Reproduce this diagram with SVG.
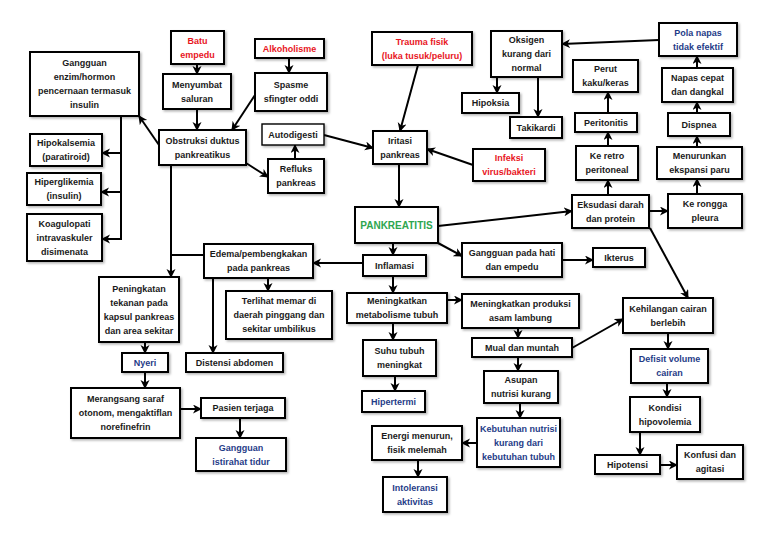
<svg xmlns="http://www.w3.org/2000/svg" width="768" height="543" viewBox="0 0 768 543">
<style>
.b{fill:#fff;stroke:#000;stroke-width:2;filter:url(#sh)}
.t{stroke-width:1.4}
text{font-family:"Liberation Sans",Arial,sans-serif;font-size:9px;font-weight:bold;text-anchor:middle;fill:#1a1a1a}
.r{fill:#e8161e}
.g{fill:#2ea64f;font-size:10px}
.n{fill:#1f3c88}
.c path{fill:none;stroke:#000;stroke-width:2}
.c .a{marker-end:url(#ar)}
</style>
<defs>
<filter id="sh" x="-10%" y="-10%" width="130%" height="140%"><feDropShadow dx="1.5" dy="1.5" stdDeviation="0.8" flood-color="#000" flood-opacity="0.3"/></filter>
<marker id="ar" markerUnits="userSpaceOnUse" markerWidth="10" markerHeight="10" refX="8" refY="4.5" orient="auto"><path d="M0,0 L9,4.5 L0,9 L2.5,4.5 z" fill="#000"/></marker>
</defs>
<rect width="768" height="543" fill="#fff"/>
<g class="c">
<path class="a" d="M197,64 V74"/>
<path class="a" d="M197,109 V130"/>
<path class="a" d="M289,58 V73"/>
<path class="a" d="M255,95 L232,130"/>
<path class="a" d="M159,145 L139,116"/>
<path d="M121,116 V240"/>
<path class="a" d="M121,153 H102"/>
<path class="a" d="M121,192 H101"/>
<path class="a" d="M121,239 H102"/>
<path class="a" d="M246,163 L268,177"/>
<path class="a" d="M295,159 V145"/>
<path class="a" d="M324,135 L373,148"/>
<path class="a" d="M418,65 L400,131"/>
<path class="a" d="M473,165 L427,149"/>
<path class="a" d="M399,164 V207"/>
<path class="a" d="M438,226 L572,211"/>
<path class="a" d="M659,40 L562,44"/>
<path class="a" d="M497,77 V93"/>
<path class="a" d="M538,77 V117"/>
<path class="a" d="M608,195 V180"/>
<path class="a" d="M608,146 V132"/>
<path class="a" d="M608,113 V92"/>
<path class="a" d="M649,211 H668"/>
<path class="a" d="M697,194 V179"/>
<path class="a" d="M697,147 V136"/>
<path class="a" d="M697,113 V102"/>
<path class="a" d="M697,68 V56"/>
<path class="a" d="M650,228 L688,298"/>
<path class="a" d="M393,243 V255"/>
<path class="a" d="M438,243 L462,256"/>
<path class="a" d="M363,263 H313"/>
<path class="a" d="M171,165 V277"/>
<path d="M204,255 H171"/>
<path class="a" d="M213,278 V353"/>
<path class="a" d="M268,278 V291"/>
<path class="a" d="M393,276 V293"/>
<path class="a" d="M447,300 H462"/>
<path class="a" d="M393,323 V340"/>
<path class="a" d="M395,376 V391"/>
<path class="a" d="M562,260 H593"/>
<path class="a" d="M518,328 V338"/>
<path class="a" d="M518,357 V371"/>
<path class="a" d="M520,403 V418"/>
<path class="a" d="M477,443 H462"/>
<path class="a" d="M418,460 V477"/>
<path class="a" d="M572,348 L623,319"/>
<path class="a" d="M668,333 V349"/>
<path class="a" d="M667,383 V397"/>
<path class="a" d="M640,432 V455"/>
<path class="a" d="M660,465 H677"/>
<path class="a" d="M145,342 V353"/>
<path class="a" d="M145,372 V388"/>
<path class="a" d="M180,409 H201"/>
<path class="a" d="M240,418 V438"/>
</g>
<g id="batu"><rect class="b" x="171" y="31" width="53" height="33"/><text class="r"><tspan x="197.5" y="43.7">Batu</tspan><tspan x="197.5" y="57.7">empedu</tspan></text></g>
<g id="menyumbat"><rect class="b" x="163" y="74" width="68" height="35"/><text><tspan x="197" y="87.7">Menyumbat</tspan><tspan x="197" y="101.7">saluran</tspan></text></g>
<g id="alkoholisme"><rect class="b" x="255" y="39" width="69" height="19"/><text class="r" x="289.5" y="51.7">Alkoholisme</text></g>
<g id="spasme"><rect class="b" x="255" y="73" width="72" height="38"/><text><tspan x="291" y="88.2">Spasme</tspan><tspan x="291" y="102.2">sfingter oddi</tspan></text></g>
<g id="gangguan-enzim"><rect class="b" x="30" y="52" width="109" height="64"/><text><tspan x="84.5" y="66.2">Gangguan</tspan><tspan x="84.5" y="80.2">enzim/hormon</tspan><tspan x="84.5" y="94.2">pencernaan termasuk</tspan><tspan x="84.5" y="108.2">insulin</tspan></text></g>
<g id="obstruksi"><rect class="b" x="159" y="130" width="87" height="35"/><text><tspan x="202.5" y="143.7">Obstruksi duktus</tspan><tspan x="202.5" y="157.7">pankreatikus</tspan></text></g>
<g id="hipokalsemia"><rect class="b" x="30" y="134" width="72" height="32"/><text><tspan x="66" y="146.2">Hipokalsemia</tspan><tspan x="66" y="160.2">(paratiroid)</tspan></text></g>
<g id="hiperglikemia"><rect class="b" x="27" y="173" width="74" height="32"/><text><tspan x="64" y="185.2">Hiperglikemia</tspan><tspan x="64" y="199.2">(insulin)</tspan></text></g>
<g id="koagulopati"><rect class="b" x="27" y="214" width="75" height="47"/><text><tspan x="64.5" y="226.7">Koagulopati</tspan><tspan x="64.5" y="240.7">intravaskuler</tspan><tspan x="64.5" y="254.7">disimenata</tspan></text></g>
<g id="autodigesti"><rect class="b t" x="262" y="124" width="62" height="21"/><text x="293" y="137.7">Autodigesti</text></g>
<g id="refluks"><rect class="b" x="268" y="159" width="56" height="34"/><text><tspan x="296" y="172.2">Refluks</tspan><tspan x="296" y="186.2">pankreas</tspan></text></g>
<g id="trauma"><rect class="b" x="372" y="32" width="100" height="33"/><text class="r"><tspan x="422" y="44.7">Trauma fisik</tspan><tspan x="422" y="58.7">(luka tusuk/peluru)</tspan></text></g>
<g id="iritasi"><rect class="b" x="373" y="131" width="54" height="33"/><text><tspan x="400" y="143.7">Iritasi</tspan><tspan x="400" y="157.7">pankreas</tspan></text></g>
<g id="infeksi"><rect class="b" x="473" y="149" width="72" height="32"/><text class="r"><tspan x="509" y="161.2">Infeksi</tspan><tspan x="509" y="175.2">virus/bakteri</tspan></text></g>
<g id="oksigen"><rect class="b" x="491" y="31" width="71" height="46"/><text><tspan x="526.5" y="43.2">Oksigen</tspan><tspan x="526.5" y="57.2">kurang dari</tspan><tspan x="526.5" y="71.2">normal</tspan></text></g>
<g id="hipoksia"><rect class="b" x="462" y="93" width="57" height="20"/><text x="490.5" y="106.2">Hipoksia</text></g>
<g id="takikardi"><rect class="b" x="510" y="117" width="52" height="21"/><text x="536" y="130.7">Takikardi</text></g>
<g id="pola-napas"><rect class="b" x="659" y="23" width="78" height="33"/><text class="n"><tspan x="698" y="35.7">Pola napas</tspan><tspan x="698" y="49.7">tidak efektif</tspan></text></g>
<g id="napas-cepat"><rect class="b" x="662" y="68" width="71" height="34"/><text><tspan x="697.5" y="81.2">Napas cepat</tspan><tspan x="697.5" y="95.2">dan dangkal</tspan></text></g>
<g id="dispnea"><rect class="b" x="668" y="113" width="62" height="23"/><text x="699" y="127.7">Dispnea</text></g>
<g id="menurunkan"><rect class="b" x="657" y="147" width="85" height="32"/><text><tspan x="699.5" y="159.2">Menurunkan</tspan><tspan x="699.5" y="173.2">ekspansi paru</tspan></text></g>
<g id="ke-rongga"><rect class="b" x="668" y="194" width="74" height="34"/><text><tspan x="705" y="207.2">Ke rongga</tspan><tspan x="705" y="221.2">pleura</tspan></text></g>
<g id="perut"><rect class="b" x="573" y="60" width="65" height="32"/><text><tspan x="605.5" y="72.2">Perut</tspan><tspan x="605.5" y="86.2">kaku/keras</tspan></text></g>
<g id="peritonitis"><rect class="b" x="575" y="113" width="62" height="19"/><text x="606" y="125.7">Peritonitis</text></g>
<g id="ke-retro"><rect class="b" x="576" y="146" width="62" height="34"/><text><tspan x="607" y="159.2">Ke retro</tspan><tspan x="607" y="173.2">peritoneal</tspan></text></g>
<g id="eksudasi"><rect class="b" x="572" y="195" width="77" height="33"/><text><tspan x="610.5" y="207.7">Eksudasi darah</tspan><tspan x="610.5" y="221.7">dan protein</tspan></text></g>
<g id="pankreatitis"><rect class="b" x="355" y="207" width="83" height="36"/><text class="g" x="396.5" y="228.6">PANKREATITIS</text></g>
<g id="edema"><rect class="b" x="204" y="244" width="109" height="34"/><text><tspan x="258.5" y="257.2">Edema/pembengkakan</tspan><tspan x="258.5" y="271.2">pada pankreas</tspan></text></g>
<g id="inflamasi"><rect class="b" x="363" y="255" width="63" height="21"/><text x="394.5" y="268.7">Inflamasi</text></g>
<g id="gangguan-hati"><rect class="b" x="462" y="243" width="100" height="34"/><text><tspan x="512" y="256.2">Gangguan pada hati</tspan><tspan x="512" y="270.2">dan empedu</tspan></text></g>
<g id="ikterus"><rect class="b" x="593" y="248" width="52" height="19"/><text x="619" y="260.7">Ikterus</text></g>
<g id="peningkatan"><rect class="b" x="99" y="277" width="80" height="65"/><text><tspan x="139" y="291.7">Peningkatan</tspan><tspan x="139" y="305.7">tekanan pada</tspan><tspan x="139" y="319.7">kapsul pankreas</tspan><tspan x="139" y="333.7">dan area sekitar</tspan></text></g>
<g id="terlihat"><rect class="b" x="226" y="291" width="106" height="48"/><text><tspan x="279" y="304.2">Terlihat memar di</tspan><tspan x="279" y="318.2">daerah pinggang dan</tspan><tspan x="279" y="332.2">sekitar umbilikus</tspan></text></g>
<g id="metabolisme"><rect class="b" x="347" y="293" width="100" height="30"/><text><tspan x="397" y="304.2">Meningkatkan</tspan><tspan x="397" y="318.2">metabolisme tubuh</tspan></text></g>
<g id="asam-lambung"><rect class="b" x="462" y="294" width="117" height="34"/><text><tspan x="520.5" y="307.2">Meningkatkan produksi</tspan><tspan x="520.5" y="321.2">asam lambung</tspan></text></g>
<g id="kehilangan"><rect class="b" x="623" y="298" width="90" height="35"/><text><tspan x="668" y="311.7">Kehilangan cairan</tspan><tspan x="668" y="325.7">berlebih</tspan></text></g>
<g id="nyeri"><rect class="b" x="122" y="353" width="46" height="19"/><text class="n" x="145" y="365.7">Nyeri</text></g>
<g id="distensi"><rect class="b" x="186" y="353" width="97" height="19"/><text x="234.5" y="365.7">Distensi abdomen</text></g>
<g id="suhu"><rect class="b" x="363" y="340" width="73" height="36"/><text><tspan x="399.5" y="354.2">Suhu tubuh</tspan><tspan x="399.5" y="368.2">meningkat</tspan></text></g>
<g id="mual"><rect class="b" x="472" y="338" width="100" height="19"/><text x="522" y="350.7">Mual dan muntah</text></g>
<g id="defisit"><rect class="b" x="631" y="349" width="77" height="34"/><text class="n"><tspan x="669.5" y="362.2">Defisit volume</tspan><tspan x="669.5" y="376.2">cairan</tspan></text></g>
<g id="asupan"><rect class="b" x="484" y="371" width="74" height="32"/><text><tspan x="521" y="383.2">Asupan</tspan><tspan x="521" y="397.2">nutrisi kurang</tspan></text></g>
<g id="merangsang"><rect class="b" x="71" y="388" width="109" height="50"/><text><tspan x="125.5" y="402.2">Merangsang saraf</tspan><tspan x="125.5" y="416.2">otonom, mengaktiflan</tspan><tspan x="125.5" y="430.2">norefinefrin</tspan></text></g>
<g id="pasien"><rect class="b" x="201" y="398" width="84" height="20"/><text x="243" y="411.2">Pasien terjaga</text></g>
<g id="hipertermi"><rect class="b" x="362" y="391" width="63" height="21"/><text class="n" x="393.5" y="404.7">Hipertermi</text></g>
<g id="kondisi"><rect class="b" x="630" y="397" width="70" height="35"/><text><tspan x="665" y="410.7">Kondisi</tspan><tspan x="665" y="424.7">hipovolemia</tspan></text></g>
<g id="kebutuhan"><rect class="b" x="477" y="418" width="83" height="49"/><text class="n"><tspan x="518.5" y="431.7">Kebutuhan nutrisi</tspan><tspan x="518.5" y="445.7">kurang dari</tspan><tspan x="518.5" y="459.7">kebutuhan tubuh</tspan></text></g>
<g id="energi"><rect class="b" x="372" y="426" width="90" height="34"/><text><tspan x="417" y="439.2">Energi menurun,</tspan><tspan x="417" y="453.2">fisik melemah</tspan></text></g>
<g id="gangguan-istirahat"><rect class="b" x="196" y="438" width="90" height="33"/><text class="n"><tspan x="241" y="450.7">Gangguan</tspan><tspan x="241" y="464.7">istirahat tidur</tspan></text></g>
<g id="hipotensi"><rect class="b" x="595" y="455" width="65" height="19"/><text x="627.5" y="467.7">Hipotensi</text></g>
<g id="konfusi"><rect class="b" x="677" y="445" width="66" height="34"/><text><tspan x="710" y="458.2">Konfusi dan</tspan><tspan x="710" y="472.2">agitasi</tspan></text></g>
<g id="intoleransi"><rect class="b" x="383" y="477" width="64" height="35"/><text class="n"><tspan x="415" y="490.7">Intoleransi</tspan><tspan x="415" y="504.7">aktivitas</tspan></text></g>
</svg>
